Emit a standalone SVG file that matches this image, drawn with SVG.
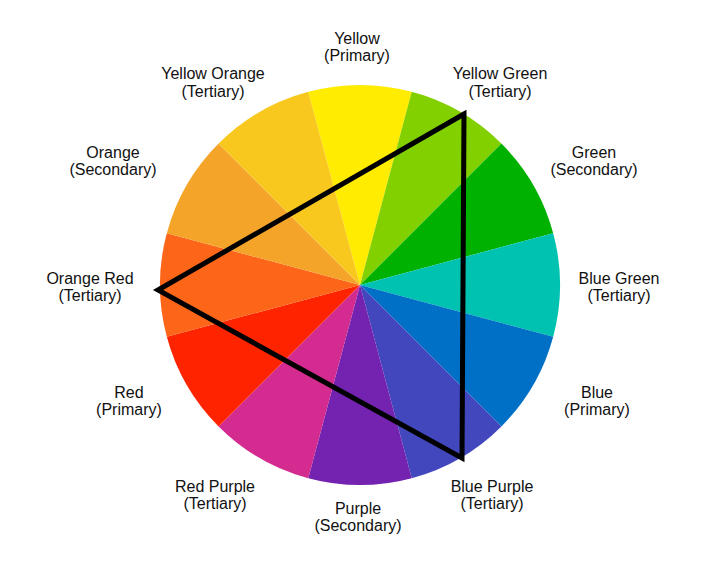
<svg xmlns="http://www.w3.org/2000/svg" width="720" height="570" viewBox="0 0 720 570">
<style>
text{font-family:"Liberation Sans",Arial,sans-serif;font-size:16px;fill:#111;text-anchor:middle}
.tri{fill:none;stroke:#000;stroke-width:5;stroke-linejoin:miter}
</style>
<rect width="720" height="570" fill="#fff"/>
<g id="yellow"><path d="M360,285 L308.24,91.81 A200,200 0 0 1 411.76,91.81 Z" fill="#FFEC00"/><text x="357" y="44">Yellow</text><text x="357" y="61">(Primary)</text></g>
<g id="yellow-green"><path d="M360,285 L411.76,91.81 A200,200 0 0 1 501.42,143.58 Z" fill="#82D000"/><text x="500" y="79">Yellow Green</text><text x="500" y="97">(Tertiary)</text></g>
<g id="green"><path d="M360,285 L501.42,143.58 A200,200 0 0 1 553.19,233.24 Z" fill="#00B100"/><text x="594" y="158">Green</text><text x="594" y="175">(Secondary)</text></g>
<g id="blue-green"><path d="M360,285 L553.19,233.24 A200,200 0 0 1 553.19,336.76 Z" fill="#00C2B0"/><text x="619" y="284">Blue Green</text><text x="619" y="301">(Tertiary)</text></g>
<g id="blue"><path d="M360,285 L553.19,336.76 A200,200 0 0 1 501.42,426.42 Z" fill="#0070C6"/><text x="597" y="398">Blue</text><text x="597" y="415">(Primary)</text></g>
<g id="blue-purple"><path d="M360,285 L501.42,426.42 A200,200 0 0 1 411.76,478.19 Z" fill="#4347BE"/><text x="492" y="492">Blue Purple</text><text x="492" y="509">(Tertiary)</text></g>
<g id="purple"><path d="M360,285 L411.76,478.19 A200,200 0 0 1 308.24,478.19 Z" fill="#7423B0"/><text x="358" y="514">Purple</text><text x="358" y="531">(Secondary)</text></g>
<g id="red-purple"><path d="M360,285 L308.24,478.19 A200,200 0 0 1 218.58,426.42 Z" fill="#D32B8F"/><text x="215" y="492">Red Purple</text><text x="215" y="509">(Tertiary)</text></g>
<g id="red"><path d="M360,285 L218.58,426.42 A200,200 0 0 1 166.81,336.76 Z" fill="#FF2400"/><text x="129" y="398">Red</text><text x="129" y="415">(Primary)</text></g>
<g id="orange-red"><path d="M360,285 L166.81,336.76 A200,200 0 0 1 166.81,233.24 Z" fill="#FD6518"/><text x="90" y="284">Orange Red</text><text x="90" y="301">(Tertiary)</text></g>
<g id="orange"><path d="M360,285 L166.81,233.24 A200,200 0 0 1 218.58,143.58 Z" fill="#F5A42A"/><text x="113" y="158">Orange</text><text x="113" y="175">(Secondary)</text></g>
<g id="yellow-orange"><path d="M360,285 L218.58,143.58 A200,200 0 0 1 308.24,91.81 Z" fill="#F9C81E"/><text x="213" y="79">Yellow Orange</text><text x="213" y="97">(Tertiary)</text></g>
<g id="connectors"><path class="tri" d="M464,114 L158,290 L462,458 Z"/></g>
</svg>
